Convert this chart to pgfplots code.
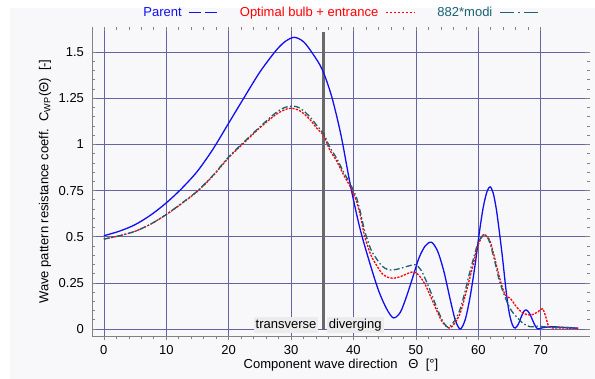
\documentclass[border=0pt]{standalone}
\usepackage{fontspec}
\setmainfont{Liberation Sans}
\usepackage{pgfplots}
\pgfplotsset{compat=1.18}

\definecolor{bgcol}{RGB}{248,248,251}
\definecolor{gridcol}{RGB}{100,100,165}
\definecolor{parent}{RGB}{15,15,240}
\definecolor{optim}{RGB}{255,0,0}
\definecolor{modi}{RGB}{25,100,112}
\definecolor{axiscol}{RGB}{130,130,130}
\definecolor{kelvin}{RGB}{105,105,105}
\definecolor{boxcol}{RGB}{236,236,236}

\begin{document}
\begin{tikzpicture}[font=\fontsize{13}{15}\selectfont]
\path[use as bounding box] (-92pt,-43pt) rectangle (503pt,336pt);
\fill[bgcol] (-82pt,-43pt) rectangle (503pt,328pt);

\pgfplotsset{
  common/.style={
    scale only axis, width=498pt, height=309pt,
    xmin=-1.9, xmax=77.9, ymin=-0.038, ymax=1.636,
    xtick={0,10,...,70}, ytick={0,0.25,0.5,0.75,1,1.25,1.5},
    minor x tick num=4, minor y tick num=4,
    major tick length=4.5pt, minor tick length=3pt,
    tick style={axiscol, line width=0.6pt},
    axis line style={axiscol, line width=0.8pt},
    /pgf/number format/assume math mode=true,
    ticklabel style={font=\fontsize{13}{15}\selectfont},
  }
}

% data axis: grid, curves, labels, legend
\begin{axis}[common, name=main,
  axis x line*=bottom, axis y line*=left,
  tick align=inside,
  xtick style={draw=none},
  grid=major,
  major grid style={gridcol, line width=0.6pt},
  xticklabel style={yshift=-6pt},
  yticklabel style={xshift=-4.5pt},
  xlabel={Component wave direction \ \ Θ\ \ [°]},
  xlabel style={at={(axis description cs:0.5,-0.094)}, anchor=center},
  ylabel={Wave pattern resistance coeff.\ \ C\textsubscript{WP}(Θ)\ \ [-]},
  ylabel style={at={(axis description cs:-0.0944,0.5)}, anchor=center, rotate=0},
  legend plot pos=right,
  legend columns=3,
  legend style={at={(0.5,1)}, anchor=center, yshift=14.5pt,
    draw=none, fill=none, font=\fontsize{13}{15}\selectfont,
    /tikz/every odd column/.append style={column sep=5pt},
    /tikz/every even column/.append style={column sep=20pt}},
]

% Kelvin angle separating transverse and diverging waves
\addplot[kelvin, line width=3pt, forget plot] coordinates {(35.26,0) (35.26,1.61)};

\addplot[parent, line width=1.3pt, smooth,
  legend image code/.code={\draw[parent, line width=1.2pt, dash pattern=on 12pt off 4pt] (0pt,0pt) -- (28pt,0pt);}]
coordinates {
(0,0.505) (2.5,0.530) (5,0.565) (7.5,0.617) (10,0.683) (12.5,0.762)
(15,0.855) (17.5,0.975) (20,1.115) (22.5,1.255) (25,1.392) (27.5,1.505)
(29,1.556) (30.5,1.580) (32,1.556) (33.5,1.490) (35,1.405) (36.5,1.26)
(38,1.05) (39.5,0.78) (41,0.55) (42.5,0.37) (44,0.21) (45.3,0.11)
(46.4,0.06) (47.5,0.09) (48.5,0.176) (49.5,0.28) (50.5,0.385) (51.5,0.45)
(52.5,0.47) (53.5,0.42) (54.5,0.31) (55.5,0.16) (56.3,0.05) (57.1,0.0)
(57.9,0.05) (58.7,0.176) (59.5,0.35) (60.2,0.53) (60.8,0.66) (61.4,0.745)
(61.9,0.77) (62.4,0.735) (62.9,0.647) (63.4,0.52) (63.9,0.38) (64.5,0.194)
(65.0,0.08) (65.5,0.02) (65.9,0.005) (66.4,0.025) (66.9,0.067) (67.3,0.095)
(67.7,0.103) (68.2,0.085) (68.8,0.04) (69.2,0.012) (69.6,0.0) (70.2,0.006)
(71,0.01) (72,0.012) (73,0.01) (74,0.008) (75,0.006) (76,0.004)
};
\addlegendentry{\textcolor{parent}{Parent}}

\addplot[optim, line width=1.3pt, smooth, dash pattern=on 2.2pt off 1.3pt,
  legend image code/.code={\draw[optim, line width=1.2pt, dash pattern=on 2.5pt off 1.5pt] (0pt,0pt) -- (29pt,0pt);}]
coordinates {
(0,0.487) (2.5,0.505) (5,0.529) (7.5,0.568) (10,0.620) (12.5,0.680)
(15,0.746) (17.5,0.830) (20,0.928) (22.5,1.010) (25,1.090) (27.5,1.160)
(29,1.188) (30.1,1.196) (31.5,1.180) (33,1.135) (34.3,1.08) (35.2,1.05)
(36.2,0.97) (37.3,0.91) (38.5,0.83) (39.5,0.77) (40.5,0.69) (41.2,0.60)
(41.8,0.50) (42.8,0.40) (43.7,0.345) (44.6,0.30) (45.5,0.28) (46.4,0.275)
(47.5,0.283) (48.5,0.298) (49.6,0.31) (50.5,0.29) (51.5,0.24) (52.5,0.165)
(53.3,0.103) (54.2,0.04) (55.3,0.005) (56.2,0.03) (57.1,0.085) (57.9,0.18)
(58.7,0.284) (59.4,0.38) (60.0,0.457) (60.8,0.51) (61.4,0.50) (61.9,0.475)
(62.7,0.375) (63.5,0.266) (64.3,0.185) (65.1,0.167) (65.6,0.145) (66.1,0.12)
(67.2,0.085) (68.5,0.076) (69.6,0.094) (70.3,0.11) (70.8,0.067) (71.3,0.012)
(72,0.006) (73,0.006) (74,0.005) (75,0.004) (76,0.003)
};
\addlegendentry{\textcolor{optim}{Optimal bulb + entrance}}

\addplot[modi, line width=1.3pt, smooth, dash pattern=on 6pt off 2.5pt on 1.5pt off 2.5pt,
  legend image code/.code={\draw[modi, line width=1.2pt, dash pattern=on 14pt off 4pt on 2pt off 4pt] (0pt,0pt) -- (40pt,0pt);}]
coordinates {
(0,0.487) (2.5,0.505) (5,0.529) (7.5,0.568) (10,0.620) (12.5,0.682)
(15,0.748) (17.5,0.833) (20,0.932) (22.5,1.015) (25,1.095) (27.5,1.170)
(29,1.200) (30.3,1.208) (31.5,1.195) (33,1.15) (34.3,1.095) (35.2,1.06)
(36.2,0.985) (37.3,0.925) (38.5,0.845) (39.5,0.785) (40.5,0.71) (41.2,0.62)
(41.8,0.53) (42.8,0.43) (43.7,0.38) (44.6,0.34) (45.5,0.322) (46.4,0.32)
(47.5,0.328) (48.5,0.338) (49.9,0.348) (50.8,0.32) (51.7,0.257) (52.5,0.19)
(53.3,0.12) (54.2,0.05) (55.1,0.01) (56.0,0.035) (56.9,0.09) (57.7,0.18)
(58.5,0.29) (59.3,0.39) (60.0,0.47) (60.9,0.512) (61.5,0.495) (62.0,0.45)
(62.7,0.357) (63.5,0.248) (64.5,0.155) (65.3,0.10) (66.1,0.067) (67.2,0.03)
(68.3,0.012) (69.5,0.015) (70.5,0.012) (72,0.01) (74,0.008) (76,0.006)
};
\addlegendentry{\textcolor{modi}{882*modi}}

\node[fill=boxcol, inner xsep=2pt, inner ysep=1.5pt, text height=9.5pt, text depth=3pt, anchor=south east]
  at (axis cs:34.4,-0.022) {transverse};
\node[fill=boxcol, inner xsep=2pt, inner ysep=1.5pt, text height=9.5pt, text depth=3pt, anchor=south west]
  at (axis cs:35.7,-0.022) {diverging};

\node[anchor=base, font=\fontsize{12.5}{15}\selectfont] at ([xshift=-14pt, yshift=4pt]rel axis cs:0,1) {×10\textsuperscript{-3}};
\end{axis}

% outward ticks along the bottom edge
\begin{axis}[common,
  axis x line*=bottom, hide y axis,
  tick align=outside,
  xticklabels={},
]
\end{axis}

% inward ticks along the top and right edges
\begin{axis}[common,
  axis x line*=top, axis y line*=right,
  axis line style={draw=none},
  tick align=inside,
  xticklabels={}, yticklabels={},
]
\end{axis}
\end{tikzpicture}
\end{document}
